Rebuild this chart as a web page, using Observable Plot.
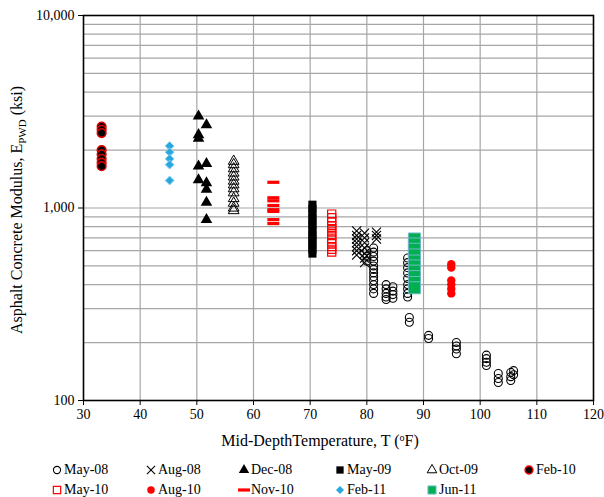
<!DOCTYPE html>
<html>
<head>
<meta charset="utf-8">
<script src="https://cdn.jsdelivr.net/npm/d3@7"></script>
<script src="https://cdn.jsdelivr.net/npm/@observablehq/plot@0.6"></script>
<style>
  body { margin: 0; background: #fff; font-family: "Liberation Serif", "Times New Roman", serif; overflow: hidden; }
  #wrap { width: 604px; height: 497px; position: relative; overflow: hidden; }
  #chart svg { display: block; font-family: "Liberation Serif", "Times New Roman", serif !important; }
  #chart svg text, #chart svg g { font-family: "Liberation Serif", "Times New Roman", serif !important; }
  #legend { position: relative; width: 604px; height: 45px; font-size: 14px; color: #000; }
  .item { position: absolute; display: flex; align-items: center; white-space: nowrap; line-height: 14px; height: 14px;
          font-family: "Liberation Serif", "Times New Roman", serif !important; font-size: 14px; }
  .item svg { display: block; margin-right: 1px; }
</style>
</head>
<body>
<div id="wrap">
  <div id="chart"></div>
  <div id="legend"></div>
</div>
<script>
// ---- Data: [temperature °F, modulus ksi] per survey ----
const may08 = [
  [80.0, 600], [80.0, 560], [80.0, 530],
  [81.2, 620], [81.2, 590], [81.2, 560], [81.2, 530], [81.2, 500], [81.2, 480],
  [81.2, 460], [81.2, 440], [81.2, 420], [81.2, 400], [81.2, 380], [81.2, 360],
  [83.4, 400], [83.4, 380], [83.4, 360], [83.4, 345], [83.4, 335],
  [84.6, 390], [84.6, 370], [84.6, 355], [84.6, 340],
  [87.2, 550], [87.2, 520], [87.2, 490], [87.2, 460], [87.2, 430], [87.2, 400],
  [87.2, 380], [87.2, 360], [87.2, 345],
  [87.5, 270], [87.5, 255],
  [90.9, 218], [90.9, 210],
  [95.8, 200], [95.8, 192], [95.8, 185], [95.8, 175],
  [101.1, 172], [101.1, 165], [101.1, 158], [101.1, 152],
  [103.2, 138], [103.2, 130], [103.2, 124],
  [105.4, 140], [105.4, 133], [105.4, 127],
  [105.9, 143], [105.9, 136]
];
const aug08 = [
  [78.2, 760], [78.2, 720], [78.2, 690], [78.2, 660], [78.2, 630], [78.2, 600], [78.2, 570],
  [79.6, 740], [79.6, 700], [79.6, 660], [79.6, 620], [79.6, 580], [79.6, 550], [79.6, 520],
  [81.7, 750], [81.7, 720], [81.7, 690]
];
const dec08 = [
  [50.3, 3000], [51.7, 2700], [50.3, 2400], [50.3, 2300],
  [50.3, 1650], [51.7, 1700], [50.3, 1400], [51.7, 1350],
  [51.7, 1250], [51.7, 1070], [51.7, 870]
];
const may09 = [
  [70.4, 1040], [70.4, 990], [70.4, 940], [70.4, 890], [70.4, 850], [70.4, 810],
  [70.4, 770], [70.4, 730], [70.4, 700], [70.4, 670], [70.4, 640], [70.4, 610], [70.4, 580]
];
const oct09 = [
  [56.5, 1750], [56.5, 1680], [56.5, 1600], [56.5, 1520], [56.5, 1450], [56.5, 1380],
  [56.5, 1320], [56.5, 1260], [56.5, 1200], [56.5, 1120], [56.5, 1060], [56.5, 1000], [56.5, 970]
];
const feb10 = [
  [33.2, 2650], [33.2, 2550], [33.2, 2450], [33.2, 2000],
  [33.2, 1900], [33.2, 1800], [33.2, 1720], [33.2, 1650]
];
const may10 = [
  [73.8, 930], [73.8, 890], [73.8, 850], [73.8, 810], [73.8, 780], [73.8, 750],
  [73.8, 720], [73.8, 690], [73.8, 660], [73.8, 630], [73.8, 610], [73.8, 590]
];
const aug10 = [
  [94.9, 510], [94.9, 490], [94.9, 420], [94.9, 400], [94.9, 380], [94.9, 360]
];
const nov10 = [
  [63.5, 1360], [63.5, 1130], [63.5, 1090], [63.5, 1030], [63.5, 980], [63.5, 960], [63.5, 870], [63.5, 830]
];
const feb11 = [
  [45.2, 2100], [45.2, 1950], [45.2, 1800], [45.2, 1680], [45.2, 1390]
];
const jun11 = [
  [88.4, 690], [88.4, 650], [88.4, 610], [88.4, 570], [88.4, 530], [88.4, 500],
  [88.4, 470], [88.4, 440], [88.4, 410], [88.4, 385]
];

const xTicks = [30, 40, 50, 60, 70, 80, 90, 100, 110, 120];
const yTicks = [100, 1000, 10000];
const yGrid = [200, 300, 400, 500, 600, 700, 800, 900, 1000, 2000, 3000, 4000, 5000, 6000, 7000, 8000, 9000];

const legendRows = [
  ["May-08", "Aug-08", "Dec-08", "May-09", "Oct-09", "Feb-10"],
  ["May-10", "Aug-10", "Nov-10", "Feb-11", "Jun-11"]
];

// ---- Styles ----
const dash = { draw(ctx, size) { ctx.moveTo(-6, -1.6); ctx.lineTo(6, -1.6); ctx.lineTo(6, 1.6); ctx.lineTo(-6, 1.6); ctx.closePath(); } };
const styles = {
  "May-08": { data: may08, symbol: "circle", r: 4, fill: "none", stroke: "#000", strokeWidth: 1.1 },
  "Aug-08": { data: aug08, symbol: "times", r: 4.2, fill: "none", stroke: "#000", strokeWidth: 1.1 },
  "Dec-08": { data: dec08, symbol: "triangle", r: 4.3, fill: "#000", stroke: "none", strokeWidth: 0 },
  "May-09": { data: may09, symbol: "square", r: 4.6, fill: "#000", stroke: "none", strokeWidth: 0 },
  "Oct-09": { data: oct09, symbol: "triangle", r: 4.0, fill: "none", stroke: "#000", strokeWidth: 1 },
  "Feb-10": { data: feb10, symbol: "circle", r: 4.3, fill: "#000", stroke: "#e00000", strokeWidth: 1.6 },
  "May-10": { data: may10, symbol: "square", r: 4.6, fill: "none", stroke: "#ff0000", strokeWidth: 1.2 },
  "Aug-10": { data: aug10, symbol: "circle", r: 4.2, fill: "#ff0000", stroke: "none", strokeWidth: 0 },
  "Nov-10": { data: nov10, symbol: dash, r: 4, fill: "#ff0000", stroke: "none", strokeWidth: 0 },
  "Feb-11": { data: feb11, symbol: "diamond2", r: 4.0, fill: "#29a8e0", stroke: "#8fd3f2", strokeWidth: 1 },
  "Jun-11": { data: jun11, symbol: "square", r: 6.8, fill: "#00b050", stroke: "#70b8c8", strokeWidth: 1 }
};
const drawOrder = ["May-08", "Aug-08", "Dec-08", "May-09", "Oct-09", "Feb-10", "May-10", "Aug-10", "Nov-10", "Feb-11", "Jun-11"];

const dotMarks = drawOrder.map(name => {
  const s = styles[name];
  return Plot.dot(s.data, {
    x: d => d[0], y: d => d[1], symbol: () => s.symbol, r: s.r,
    fill: s.fill, stroke: s.stroke, strokeWidth: s.strokeWidth
  });
});

const serif = "'Liberation Serif', 'Times New Roman', serif";
const chart = Plot.plot({
  width: 604,
  height: 452,
  marginLeft: 83,
  marginRight: 11,
  marginTop: 15,
  marginBottom: 52,
  style: { fontFamily: serif, fontSize: "14px", color: "#000", background: "#fff" },
  symbol: { type: "identity" },
  x: { domain: [30, 120] },
  y: { type: "log", domain: [100, 10000] },
  marks: [
    Plot.ruleX(xTicks.slice(1, -1), { stroke: "#a6a6a6", strokeWidth: 1.2 }),
    Plot.ruleY(yGrid, { stroke: "#a6a6a6", strokeWidth: 1.2 }),
    ...dotMarks,
    Plot.frame({ stroke: "#000", strokeWidth: 1.6 }),
    Plot.axisX({ ticks: xTicks, tickFormat: d => String(d), tickSize: 5, tickPadding: 4, label: null, stroke: "#000" }),
    Plot.axisY({ ticks: yTicks, tickFormat: d3.format(","), tickSize: 5, tickPadding: 4, label: null, stroke: "#000" })
  ]
});

const svg = d3.select(chart);
svg.selectAll("text").style("font-family", serif, "important").style("font-size", "14px");
const yt = svg.append("text")
  .attr("transform", "translate(22,210) rotate(-90)")
  .attr("text-anchor", "middle")
  .attr("fill", "#000")
  .style("font-size", "16px");
yt.append("tspan").text("Asphalt Concrete Modulus, E");
yt.append("tspan").attr("dy", 4).style("font-size", "11px").text("PWD");
yt.append("tspan").attr("dy", -4).text(" (ksi)");

const xt = svg.append("text")
  .attr("x", 320).attr("y", 446)
  .attr("text-anchor", "middle")
  .attr("fill", "#000")
  .style("font-size", "16px");
xt.append("tspan").text("Mid-DepthTemperature, T (");
xt.append("tspan").attr("dy", -5).style("font-size", "10px").text("o");
xt.append("tspan").attr("dy", 5).text("F)");

document.getElementById("chart").appendChild(chart);

// ---- Legend ----
const legend = d3.select("#legend");
const colX = [51, 145, 238, 334, 426, 523];
const rowY = [18, 38];
legendRows.forEach((row, ri) => {
  row.forEach((name, ci) => {
    const s = styles[name];
    const item = legend.append("div").attr("class", "item")
      .style("left", colX[ci] + "px").style("top", (rowY[ri] - 7) + "px");
    const m = item.append("svg").attr("width", 12).attr("height", 14);
    const sym = typeof s.symbol === "string"
      ? { circle: d3.symbolCircle, times: d3.symbolTimes, triangle: d3.symbolTriangle, square: d3.symbolSquare, diamond2: d3.symbolDiamond2 }[s.symbol]
      : s.symbol;
    const size = Math.PI * s.r * s.r * (name === "Jun-11" ? 0.45 : 0.8);
    m.append("path")
      .attr("transform", "translate(6,7)")
      .attr("d", d3.symbol(sym, size)())
      .attr("fill", s.fill).attr("stroke", s.stroke).attr("stroke-width", s.strokeWidth);
    item.append("span").text(name);
  });
});
</script>
</body>
</html>
